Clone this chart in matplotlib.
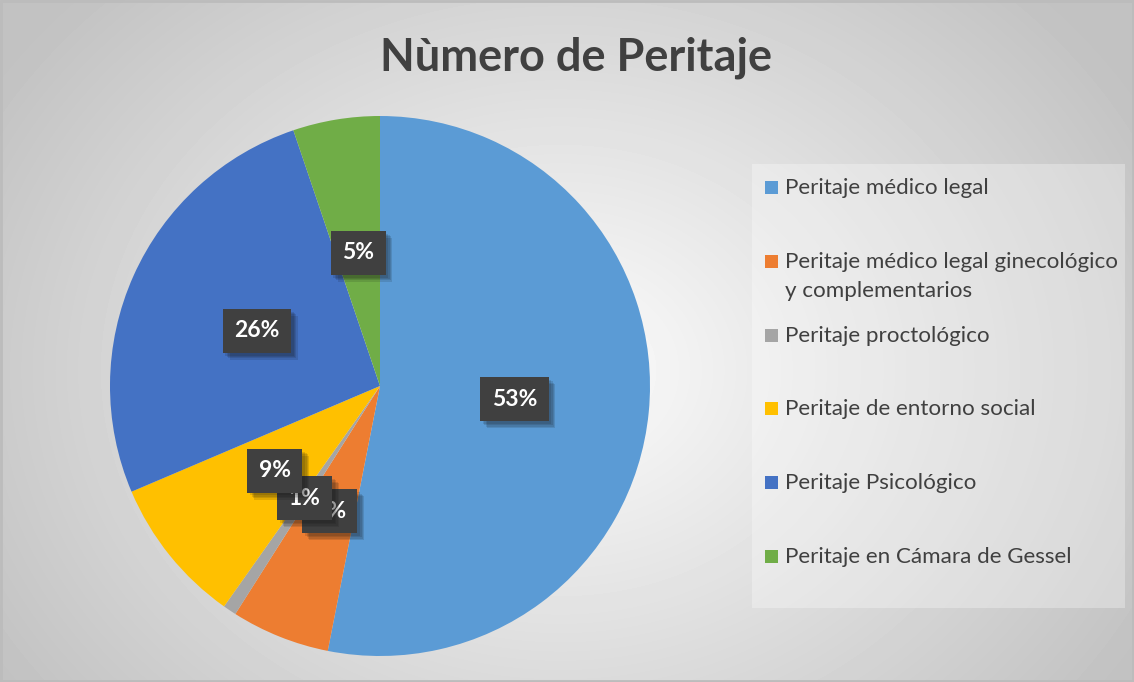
import numpy as np
import matplotlib.pyplot as plt
from matplotlib.patches import Rectangle
import matplotlib.patheffects as pe

plt.rcParams['font.family'] = ['Lato', 'DejaVu Sans']

title = "Nùmero de Peritaje"
labels = ["Peritaje médico legal",
          "Peritaje médico legal ginecológico\ny complementarios",
          "Peritaje proctológico",
          "Peritaje de entorno social",
          "Peritaje Psicológico",
          "Peritaje en Cámara de Gessel"]
shares = [53.1, 5.9, 0.8, 8.8, 26.2, 5.2]
colors = ["#5B9BD5", "#ED7D31", "#A5A5A5", "#FFC000", "#4472C4", "#70AD47"]

W, H = 1134, 682
fig = plt.figure(figsize=(W / 100, H / 100), dpi=100)

# background: soft radial gradient, drawn in pixel coords
bg = fig.add_axes([0, 0, 1, 1], zorder=0)
yy, xx = np.mgrid[0:H, 0:W]
d = np.hypot((xx - 560) / 640.0, (yy - 370) / 520.0)
shade = np.clip(0.99 - 0.22 * d, 0.76, 1)
bg.imshow(shade, cmap='gray', vmin=0, vmax=1, extent=[0, W, H, 0], aspect='auto')
bg.set_xlim(0, W)
bg.set_ylim(H, 0)
bg.axis('off')
bg.add_patch(Rectangle((1, 1), W - 2, H - 2, fill=False, ec='#bcbcbc', lw=2))

bg.text(576, 58, title, ha='center', va='center', fontsize=32.5,
        fontweight='bold', color='#404040')

# legend, drawn by hand so the wrapped entry doesn't push the rest down
bg.add_patch(Rectangle((752, 164), 373, 444, fc='white', alpha=0.3, ec='none'))
for i, (lab, c) in enumerate(zip(labels, colors)):
    y = 187 + i * 73.8
    bg.add_patch(Rectangle((765, y - 6), 13, 13, fc=c, ec='none'))
    bg.text(785, y - 9, lab, ha='left', va='top', fontsize=16.1,
            color='#404040', linespacing=1.55)

# pie
ax = fig.add_axes([(380 - 270) / W, (H - 386 - 270) / H, 540 / W, 540 / H], zorder=1)
wedges, _, autotexts = ax.pie(shares, colors=colors, startangle=90, counterclock=False,
                              autopct='%.0f%%', pctdistance=0.5,
                              wedgeprops=dict(linewidth=0),
                              textprops=dict(color='white', fontsize=16.5, fontweight='bold'))
ax.set_xlim(-1, 1)
ax.set_ylim(-1, 1)

soft = [pe.SimplePatchShadow(offset=(k, -k), alpha=0.13) for k in (5, 4, 3, 2)]
for t in autotexts:
    t.set_bbox(dict(boxstyle='square,pad=0.5', fc='#404040', ec='none'))
    t.get_bbox_patch().set_path_effects(soft + [pe.Normal()])

fig.savefig("out.png", dpi=100)
